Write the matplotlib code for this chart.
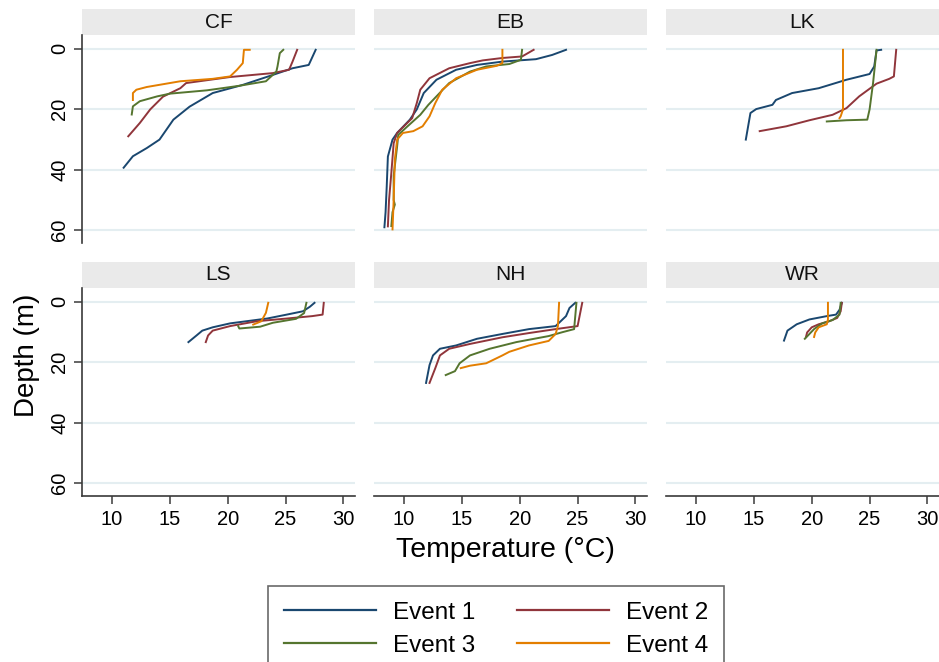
import matplotlib
matplotlib.use("Agg")

import matplotlib.pyplot as plt
from matplotlib.patches import Rectangle
from matplotlib.lines import Line2D

plt.rcParams["font.family"] = ["Liberation Sans", "DejaVu Sans"]

sites = ["CF", "EB", "LK", "LS", "NH", "WR"]
events = ["Event 1", "Event 2", "Event 3", "Event 4"]
colors = ["#1a476f", "#90353b", "#55752f", "#e37e00"]

# temperature (degC) and depth (m) for each event, per site
cf_temp = [
    [27.6, 27.0, 25.6, 23.9, 21.3, 18.7, 16.7, 15.3, 14.1, 13.0, 11.8, 11.0],
    [26.0, 25.6, 25.3, 23.9, 20.2, 16.4, 15.9, 14.4, 13.3, 12.4, 11.4],
    [24.8, 24.5, 24.3, 24.2, 23.3, 21.0, 18.2, 15.0, 13.9, 12.4, 11.8, 11.7],
    [21.9, 21.4, 21.3, 20.8, 20.2, 18.7, 15.9, 13.0, 12.1, 11.8, 11.8],
]
cf_depth = [
    [0.3, 5.3, 6.4, 8.6, 11.9, 14.6, 19.1, 23.4, 30.0, 32.8, 35.5, 39.3],
    [0.3, 4.2, 6.9, 8.0, 9.3, 11.3, 13.0, 15.8, 20.0, 24.5, 28.9],
    [0.3, 1.4, 5.8, 7.5, 10.7, 12.2, 13.7, 14.8, 15.7, 17.3, 19.0, 21.7],
    [0.3, 0.3, 4.7, 6.9, 9.1, 9.9, 10.7, 12.6, 13.5, 14.6, 16.9],
]

eb_temp = [
    [24.0, 22.8, 21.4, 18.5, 16.3, 14.5, 12.8, 11.7, 11.1, 10.5, 9.4, 9.0, 8.6, 8.5, 8.4, 8.3],
    [21.2, 20.2, 18.5, 16.8, 15.7, 13.9, 12.2, 11.4, 11.1, 10.7, 9.4, 9.1, 8.9, 8.7, 8.6],
    [20.2, 20.1, 19.1, 17.1, 15.7, 13.9, 12.8, 12.1, 11.4, 10.3, 9.5, 9.4, 9.1, 9.1, 9.2, 9.0, 8.9],
    [18.5, 18.5, 18.0, 16.3, 14.5, 13.3, 12.7, 12.2, 11.6, 10.8, 9.9, 9.4, 9.2, 9.1, 9.0],
]
eb_depth = [
    [0.3, 2.0, 3.4, 4.2, 5.3, 6.9, 10.2, 14.6, 20.0, 23.4, 27.8, 30.0, 35.6, 45.5, 54.0, 59.0],
    [0.3, 2.5, 3.0, 3.8, 4.7, 6.4, 9.7, 13.5, 17.9, 22.9, 27.8, 31.2, 41.0, 50.0, 58.7],
    [0.3, 3.6, 5.0, 5.8, 7.5, 11.3, 15.7, 18.5, 21.8, 25.6, 28.4, 32.2, 42.0, 50.0, 51.5, 54.0, 58.6],
    [0.3, 4.7, 5.6, 6.9, 9.7, 13.5, 17.9, 22.3, 25.6, 27.2, 27.8, 30.0, 36.6, 50.0, 59.7],
]

lk_temp = [
    [26.0, 25.6, 25.4, 25.0, 23.0, 20.6, 18.3, 16.9, 16.6, 15.2, 14.7, 14.4, 14.3],
    [27.3, 27.1, 26.7, 25.6, 24.1, 23.0, 21.8, 19.8, 17.8, 15.5],
    [25.6, 25.3, 25.0, 24.8, 23.0, 21.3],
    [22.7, 22.7, 22.5, 22.4],
]
lk_depth = [
    [0.3, 0.5, 5.8, 8.3, 10.2, 13.0, 14.6, 16.9, 18.5, 19.9, 21.2, 27.8, 30.0],
    [0.3, 9.1, 9.9, 11.5, 15.7, 19.6, 21.8, 23.6, 25.6, 27.2],
    [0.3, 11.3, 20.0, 23.4, 23.6, 24.0],
    [0.3, 20.0, 22.3, 22.9],
]

ls_temp = [
    [27.5, 27.1, 26.5, 25.1, 23.4, 21.6, 20.2, 18.7, 17.8, 17.3, 16.6],
    [28.3, 28.2, 27.3, 25.1, 22.5, 20.2, 18.7, 18.3, 18.1],
    [26.8, 26.6, 25.9, 23.9, 22.8, 21.0, 20.9],
    [23.5, 23.3, 22.9, 22.2],
]
ls_depth = [
    [0.3, 1.6, 3.1, 4.2, 5.5, 6.4, 7.1, 8.4, 9.5, 11.1, 13.3],
    [0.3, 4.2, 4.7, 5.5, 6.4, 8.0, 9.5, 11.1, 13.3],
    [0.3, 3.7, 5.6, 6.9, 8.2, 8.8, 8.0],
    [0.3, 3.6, 6.4, 7.5],
]

nh_temp = [
    [24.8, 24.3, 24.0, 23.1, 20.8, 18.5, 16.3, 14.5, 13.1, 12.5, 12.2, 11.9],
    [25.4, 25.0, 23.1, 20.8, 18.5, 15.7, 13.9, 13.1, 12.7, 12.2],
    [24.9, 24.7, 23.7, 22.5, 19.7, 17.4, 15.7, 14.8, 14.4, 13.6],
    [23.4, 23.3, 23.1, 22.5, 20.8, 19.1, 18.5, 17.1, 15.7, 14.9],
]
nh_depth = [
    [0.3, 2.0, 4.7, 8.0, 9.0, 10.6, 12.2, 14.4, 15.5, 17.7, 20.9, 26.8],
    [0.3, 8.0, 9.0, 10.3, 11.7, 13.9, 15.5, 17.7, 21.9, 26.8],
    [0.3, 9.0, 10.0, 11.3, 13.3, 15.5, 17.7, 20.3, 22.9, 24.2],
    [0.3, 8.0, 10.6, 12.9, 14.4, 16.5, 17.7, 20.3, 21.1, 21.9],
]

wr_temp = [
    [22.6, 22.4, 22.1, 21.3, 19.8, 18.7, 17.9, 17.6],
    [22.6, 22.5, 22.2, 21.5, 20.6, 20.0, 19.6, 19.5],
    [22.5, 22.4, 21.8, 20.9, 20.2, 19.8, 19.4],
    [21.4, 21.4, 21.3, 20.6, 20.3, 20.2],
]
wr_depth = [
    [0.3, 2.6, 4.2, 4.7, 5.8, 7.4, 9.5, 12.8],
    [0.3, 3.1, 5.3, 6.4, 7.4, 8.4, 10.1, 11.6],
    [0.3, 4.2, 6.0, 7.1, 9.0, 10.6, 12.2],
    [0.3, 5.8, 7.4, 8.4, 10.1, 11.6],
]

temps = [cf_temp, eb_temp, lk_temp, ls_temp, nh_temp, wr_temp]
depths = [cf_depth, eb_depth, lk_depth, ls_depth, nh_depth, wr_depth]

x_ticks = [10, 15, 20, 25, 30]
y_ticks = [0, 20, 40, 60]

W, H = 939, 662
fig = plt.figure(figsize=(W / 100, H / 100), dpi=100)

col_left = [82, 374, 666]
ax_w = 273
row_top = [35, 288]
ax_h = 208
strip_h = 26
axis_col = "#3a3a3a"

for i, site in enumerate(sites):
    r, c = divmod(i, 3)
    ax = fig.add_axes([col_left[c] / W, 1 - (row_top[r] + ax_h) / H, ax_w / W, ax_h / H])
    for k in range(4):
        ax.plot(temps[i][k], depths[i][k], color=colors[k], lw=1.4)
    ax.set_xlim(7.4, 31.0)
    ax.set_ylim(64.2, -4.6)
    ax.set_yticks(y_ticks)
    ax.set_xticks(x_ticks)
    for yv in y_ticks:
        ax.axhline(yv, color="#e4eef1", lw=1.5, zorder=0)
    for s in ["top", "right"]:
        ax.spines[s].set_visible(False)
    ax.spines["left"].set_visible(c == 0)
    ax.spines["bottom"].set_visible(r == 1)
    ax.spines["left"].set_color(axis_col)
    ax.spines["bottom"].set_color(axis_col)
    ax.spines["left"].set_linewidth(1.2)
    ax.spines["bottom"].set_linewidth(1.2)
    if c == 0:
        ax.tick_params(axis="y", length=6, width=1.1, color=axis_col,
                       labelsize=14.5, pad=3)
        for lab in ax.get_yticklabels():
            lab.set_rotation(90)
            lab.set_va("center")
    else:
        ax.tick_params(axis="y", left=False, labelleft=False)
    if r == 1:
        ax.tick_params(axis="x", length=6, width=1.1, color=axis_col,
                       labelsize=14.5, pad=4)
    else:
        ax.tick_params(axis="x", bottom=False, labelbottom=False)
    ax.add_patch(Rectangle((0, 1), 1, strip_h / ax_h, transform=ax.transAxes,
                           facecolor="#eaeaea", edgecolor="none", clip_on=False))
    ax.text(0.5, 1 + strip_h / ax_h / 2, site, transform=ax.transAxes,
            ha="center", va="center", fontsize=15, color="#111111")

fig.text(27 / W, 1 - 355 / H, "Depth (m)", rotation=90, ha="center", va="center",
         fontsize=20)
fig.text(505 / W, 1 - 550 / H, "Temperature (\u00b0C)", ha="center", va="center",
         fontsize=20.5)

# legend is filled row-wise: Event 1, Event 2 / Event 3, Event 4
order = [0, 2, 1, 3]
handles = [Line2D([], [], color=colors[k], lw=1.6) for k in order]
labels = [events[k] for k in order]
leg = fig.legend(handles, labels, loc="upper center", bbox_to_anchor=(496 / W, 1 - 586 / H),
                 ncol=2, fontsize=17.5, frameon=True, fancybox=False,
                 handlelength=3.8, handletextpad=0.7, columnspacing=1.7,
                 labelspacing=0.45, borderpad=0.65, borderaxespad=0)
leg.get_frame().set_edgecolor("#444444")
leg.get_frame().set_linewidth(1.2)

fig.savefig("out.png", dpi=100)
